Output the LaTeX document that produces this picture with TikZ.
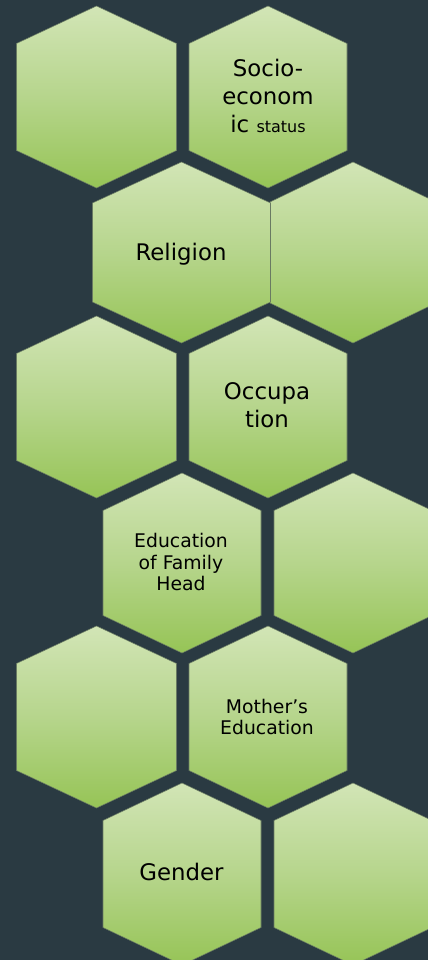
\documentclass[tikz,border=0pt]{standalone}
\usepackage{fontspec}
\setmainfont{DejaVu Sans}
\usetikzlibrary{positioning}
\definecolor{SlateBg}{RGB}{42,58,66}
\definecolor{LeafTop}{RGB}{210,229,182}
\definecolor{LeafMid}{RGB}{182,213,140}
\definecolor{LeafLow}{RGB}{150,196,86}
\definecolor{LeafLine}{RGB}{105,122,98}
\tikzset{
  cell/.style={draw=LeafLine,line width=0.3pt,top color=LeafTop,bottom color=LeafLow,middle color=LeafMid},
  bigtxt/.style={font=\fontsize{13}{15.9}\selectfont,align=center,text=black,inner sep=0pt},
  smalltxt/.style={font=\fontsize{10.7}{12.5}\selectfont,align=center,text=black,inner sep=0pt},
}
\newcommand{\hexcell}[5]{% cx, cy, half width, half height, slant
  \path[cell,shift={(#1,#2)}] (0,-#4) -- (#3,-#4+#5) -- (#3,#4-#5) -- (0,#4) -- (-#3,#4-#5) -- (-#3,-#4+#5) -- cycle;}

\begin{document}
\begin{tikzpicture}[x=0.02cm,y=-0.02cm]
\fill[SlateBg] (0,0) rectangle (428,960);
\useasboundingbox (0,0) rectangle (428,960);
% row 1
\hexcell{96.5}{97}{80}{91}{37.5}
\hexcell{268}{97}{79}{91}{37.5}
% row 2
\hexcell{353}{252.5}{83}{90.5}{40}
\hexcell{181.5}{252.5}{89}{90.5}{41}
% row 3
\hexcell{96.5}{407}{80}{91}{37.5}
\hexcell{268}{407}{79}{91}{37.5}
% row 4
\hexcell{182}{563}{79}{90}{37.5}
\hexcell{353}{563}{79}{90}{37.5}
% row 5
\hexcell{96.5}{717}{80}{91}{37.5}
\hexcell{268}{717}{79}{91}{37.5}
% row 6
\hexcell{182}{874}{79}{91}{37.5}
\hexcell{353}{874}{79}{91}{37.5}
% labels
\node[bigtxt] (socio) at (268,96) {Socio-\\econom\\ic {\fontsize{9.1}{10}\selectfont status}};
\node[bigtxt,anchor=base] (religion) at (181,260) {Religion};
\node[bigtxt] (occupation) at (267,405.5) {Occupa\\tion};
\node[smalltxt] (eduhead) at (181,562) {Education\\of Family\\Head};
\node[smalltxt] (mothered) at (267,717) {Mother’s\\Education};
\node[bigtxt,anchor=base] (gender) at (181.5,880.7) {Gender};
\end{tikzpicture}
\end{document}
